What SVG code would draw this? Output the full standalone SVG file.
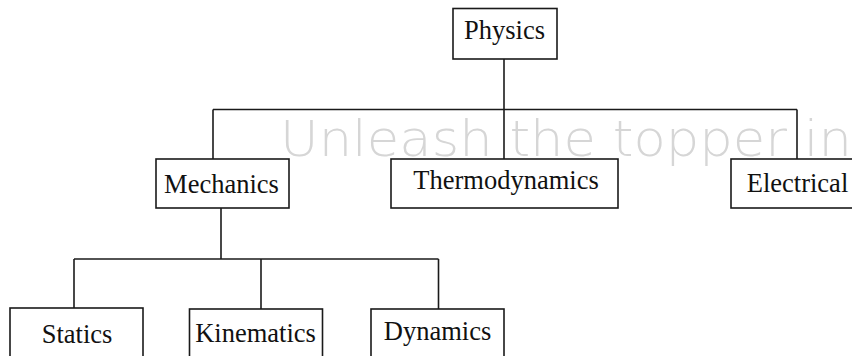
<svg xmlns="http://www.w3.org/2000/svg" width="852" height="356" viewBox="0 0 852 356">
<style>
.box{fill:none;stroke:#1a1a1a;stroke-width:1.6}
.lbl{font-family:"Liberation Serif","Times New Roman",serif;font-size:26.5px;fill:#111;text-anchor:middle}
.conn line{stroke:#1a1a1a;stroke-width:1.6}
.wm{fill:#d6d6d6}
</style>
<rect width="852" height="356" fill="#fff"/>
<g id="watermark">
<text class="wm" x="280" y="156" font-family="'DejaVu Sans',sans-serif" font-weight="200" font-size="50" textLength="572" lengthAdjust="spacingAndGlyphs">Unleash the topper in</text>
</g>
<g id="connectors" class="conn">
<line x1="504" y1="59" x2="504" y2="109.5"/>
<line x1="213" y1="109.5" x2="797" y2="109.5"/>
<line x1="213" y1="109.5" x2="213" y2="159"/>
<line x1="504" y1="109.5" x2="504" y2="159"/>
<line x1="797" y1="109.5" x2="797" y2="159"/>
<line x1="221" y1="208" x2="221" y2="259"/>
<line x1="74" y1="259" x2="438.5" y2="259"/>
<line x1="74" y1="259" x2="74" y2="308"/>
<line x1="261" y1="259" x2="261" y2="309"/>
<line x1="438.5" y1="259" x2="438.5" y2="309"/>
</g>
<g id="physics"><rect class="box" x="453" y="8.5" width="104" height="50.5"/><text class="lbl" x="504.5" y="39">Physics</text></g>
<g id="mechanics"><rect class="box" x="156" y="159" width="133" height="49"/><text class="lbl" x="221.5" y="193">Mechanics</text></g>
<g id="thermodynamics"><rect class="box" x="391" y="159" width="227" height="49"/><text class="lbl" x="506" y="189">Thermodynamics</text></g>
<g id="electrical"><rect class="box" x="731" y="159" width="130" height="49"/><text class="lbl" x="797.5" y="192">Electrical</text></g>
<g id="statics"><rect class="box" x="10" y="308" width="133" height="60"/><text class="lbl" x="77" y="342.5">Statics</text></g>
<g id="kinematics"><rect class="box" x="189.5" y="309" width="133" height="60"/><text class="lbl" x="255.5" y="342">Kinematics</text></g>
<g id="dynamics"><rect class="box" x="371" y="309" width="133" height="60"/><text class="lbl" x="437.5" y="340">Dynamics</text></g>
</svg>
